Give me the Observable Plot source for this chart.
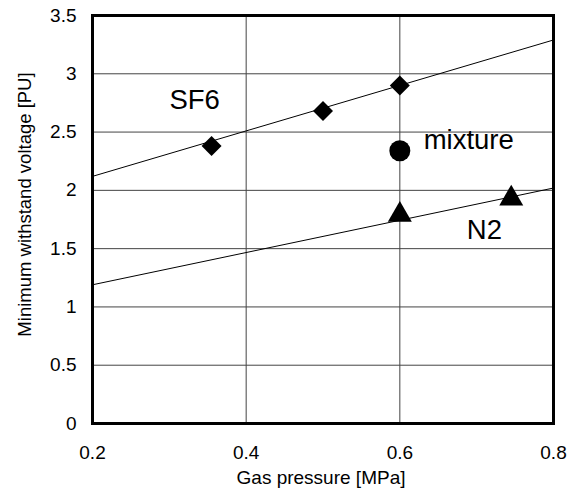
<!DOCTYPE html>
<html>
<head>
<meta charset="utf-8">
<script src="https://cdn.jsdelivr.net/npm/d3@7"></script>
<script src="https://cdn.jsdelivr.net/npm/@observablehq/plot@0.6"></script>
<style>
  html, body { margin: 0; padding: 0; background: #fff; }
</style>
</head>
<body>
<div id="chart"></div>
<script>
// Data
const sf6Pressure = [0.355, 0.5, 0.6];
const sf6Voltage = [2.38, 2.68, 2.90];
const mixPressure = [0.6];
const mixVoltage = [2.34];
const n2Pressure = [0.6, 0.745];
const n2Voltage = [1.79, 1.93];
const fitPressure = [0.2, 0.8];
const sf6Fit = [2.12, 3.29];
const n2Fit = [1.19, 2.02];
const xTicks = [0.2, 0.4, 0.6, 0.8];
const yTicks = [0, 0.5, 1, 1.5, 2, 2.5, 3, 3.5];
const xGrid = [0.4, 0.6];
const yGrid = [0.5, 1, 1.5, 2, 2.5, 3];
const labelText = ["SF6", "mixture", "N2"];
const labelPressure = [0.333, 0.631, 0.71];
const labelVoltage = [2.77, 2.43, 1.66];
const labelAnchor = ["middle", "start", "middle"];
const xTitle = "Gas pressure [MPa]";
const yTitle = "Minimum withstand voltage [PU]";

const sf6 = sf6Pressure.map((p, i) => ({p, v: sf6Voltage[i]}));
const mix = mixPressure.map((p, i) => ({p, v: mixVoltage[i]}));
const n2 = n2Pressure.map((p, i) => ({p, v: n2Voltage[i]}));
const sf6Line = fitPressure.map((p, i) => ({p, v: sf6Fit[i]}));
const n2Line = fitPressure.map((p, i) => ({p, v: n2Fit[i]}));
const labels = labelText.map((t, i) => ({t, p: labelPressure[i], v: labelVoltage[i], a: labelAnchor[i]}));

const font = "'Liberation Sans', Arial, sans-serif";

const chart = Plot.plot({
  width: 571,
  height: 502,
  marginLeft: 92,
  marginRight: 18,
  marginTop: 15,
  marginBottom: 79,
  style: {fontFamily: font, fontSize: "19px", color: "#000", background: "#fff"},
  x: {domain: [0.2, 0.8]},
  y: {domain: [0, 3.5]},
  marks: [
    Plot.gridX(xGrid, {stroke: "#444", strokeOpacity: 1, strokeWidth: 1}),
    Plot.gridY(yGrid, {stroke: "#444", strokeOpacity: 1, strokeWidth: 1}),
    Plot.line(sf6Line, {x: "p", y: "v", stroke: "#000", strokeWidth: 1}),
    Plot.line(n2Line, {x: "p", y: "v", stroke: "#000", strokeWidth: 1}),
    Plot.dot(sf6, {x: "p", y: "v", symbol: "diamond2", r: 9, fill: "#000", stroke: "none"}),
    Plot.dot(mix, {x: "p", y: "v", symbol: "circle", r: 10.5, fill: "#000", stroke: "none"}),
    Plot.dot(n2, {x: "p", y: "v", symbol: "triangle", r: 8.9, fill: "#000", stroke: "none"}),
    Plot.text(labels.filter(d => d.a === "middle"), {x: "p", y: "v", text: "t", fontSize: 27.5, fill: "#000", textAnchor: "middle"}),
    Plot.text(labels.filter(d => d.a === "start"), {x: "p", y: "v", text: "t", fontSize: 27.5, fill: "#000", textAnchor: "start"}),
    Plot.frame({stroke: "#000", strokeWidth: 3}),
    Plot.axisX({ticks: xTicks, tickFormat: d => String(d), tickSize: 0, tickPadding: 22, label: null, fontSize: 19}),
    Plot.axisY({ticks: yTicks, tickFormat: d => String(d), tickSize: 0, tickPadding: 16, label: null, fontSize: 19}),
    Plot.text([xTitle], {text: d => d, frameAnchor: "bottom", textAnchor: "middle", lineAnchor: "middle", dy: 54, dx: -2, fontSize: 19, fill: "#000"}),
    Plot.text([yTitle], {text: d => d, frameAnchor: "left", textAnchor: "middle", lineAnchor: "middle", rotate: -90, dx: -67, dy: -15, fontSize: 18.5, fill: "#000"})
  ]
});
document.getElementById("chart").appendChild(chart);
</script>
</body>
</html>
